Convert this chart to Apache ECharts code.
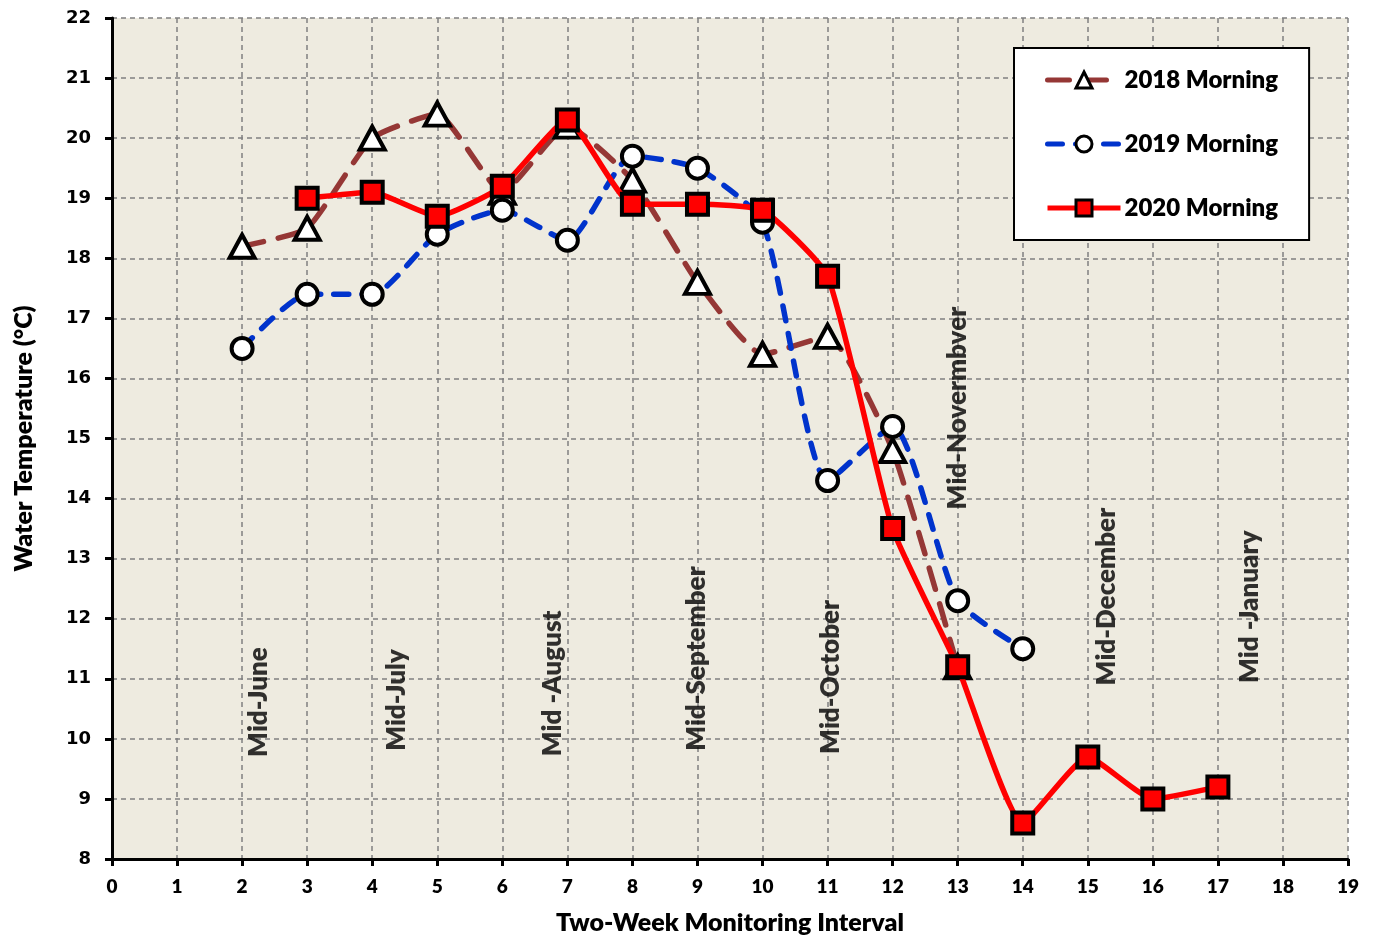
<!DOCTYPE html>
<html>
<head>
<meta charset="utf-8">
<script src="https://cdn.jsdelivr.net/npm/echarts@6/dist/echarts.min.js"></script>
<style>
html,body{margin:0;padding:0;background:#fff;overflow:hidden;}
#chart{width:1374px;height:940px;}
</style>
</head>
<body>
<div id="chart"></div>
<script>
// ---- data ----
const seriesNames = ['2018 Morning', '2019 Morning', '2020 Morning'];
const x2018 = [2, 3, 4, 5, 6, 7, 8, 9, 10, 11, 12, 13];
const y2018 = [18.2, 18.5, 20.0, 20.4, 19.1, 20.2, 19.3, 17.6, 16.4, 16.7, 14.8, 11.2];
const x2019 = [2, 3, 4, 5, 6, 7, 8, 9, 10, 11, 12, 13, 14];
const y2019 = [16.5, 17.4, 17.4, 18.4, 18.8, 18.3, 19.7, 19.5, 18.6, 14.3, 15.2, 12.3, 11.5];
const x2020 = [3, 4, 5, 6, 7, 8, 9, 10, 11, 12, 13, 14, 15, 16, 17];
const y2020 = [19.0, 19.1, 18.7, 19.2, 20.3, 18.9, 18.9, 18.8, 17.7, 13.5, 11.2, 8.6, 9.7, 9.0, 9.2];
// month annotations: text, x position, y position (start of text)
const monthLabels = ['Mid-June', 'Mid-July', 'Mid -August', 'Mid-September', 'Mid-October', 'Mid-Novermbver', 'Mid-December', 'Mid -January'];
const monthX = [2.26, 4.38, 6.78, 8.99, 11.04, 13.0, 15.29, 17.49];
const monthY = [9.70, 9.80, 9.71, 9.80, 9.75, 13.82, 10.89, 10.93];
const xTicks = {min: 0, max: 19, interval: 1};
const yTicks = {min: 8, max: 22, interval: 1};

const pairs = (xs, ys) => xs.map((x, i) => [x, ys[i]]);
const calibri = 'Lato, "Open Sans", sans-serif';
const heavy = 800;

const chart = echarts.init(document.getElementById('chart'), null, {renderer: 'canvas', width: 1374, height: 940});
chart.setOption({
  animation: false,
  backgroundColor: '#ffffff',
  grid: {left: 112, right: 26, top: 18, bottom: 80, show: true, backgroundColor: '#EEEBE0', borderWidth: 0, containLabel: false},
  legend: {
    data: seriesNames,
    orient: 'vertical',
    left: 1014, top: 48,
    padding: [19, 31, 19, 31],
    itemGap: 38,
    itemWidth: 73, itemHeight: 20,
    backgroundColor: '#ffffff',
    borderColor: '#000000', borderWidth: 2,
    lineStyle: {width: 5},
    itemStyle: {borderWidth: 3},
    textStyle: {fontFamily: calibri, fontWeight: heavy, fontSize: 24, lineHeight: 26, color: '#000', padding: [0, 0, 0, -1]}
  },
  xAxis: {
    type: 'value', min: xTicks.min, max: xTicks.max, interval: xTicks.interval,
    name: 'Two-Week Monitoring Interval', nameLocation: 'middle', nameGap: 51,
    nameTextStyle: {fontFamily: calibri, fontWeight: heavy, fontSize: 25, color: '#000'},
    axisLine: {show: true, onZero: false, lineStyle: {color: '#000', width: 3}},
    axisTick: {show: true, length: 7, lineStyle: {color: '#000', width: 3}},
    axisLabel: {fontFamily: calibri, fontWeight: heavy, fontSize: 19, color: '#000', margin: 18},
    splitLine: {show: true, lineStyle: {color: '#808080', type: [5, 4], width: 1.5}}
  },
  yAxis: {
    type: 'value', min: yTicks.min, max: yTicks.max, interval: yTicks.interval,
    name: 'Water Temperature (°C)', nameLocation: 'middle', nameGap: 76, nameRotate: 90,
    nameTextStyle: {fontFamily: calibri, fontWeight: heavy, fontSize: 25, color: '#000'},
    axisLine: {show: true, onZero: false, lineStyle: {color: '#000', width: 3}},
    axisTick: {show: true, length: 7, lineStyle: {color: '#000', width: 3}},
    axisLabel: {fontFamily: '"DejaVu Sans", Verdana, sans-serif', fontWeight: 'bold', fontSize: 18, color: '#000', margin: 21},
    splitLine: {show: true, lineStyle: {color: '#808080', type: [5, 4], width: 1.5}}
  },
  series: [
    {
      name: seriesNames[0], type: 'line', data: pairs(x2018, y2018), smooth: 0.16, z: 2,
      lineStyle: {color: '#953735', width: 5.5, type: [22, 15], cap: 'round'},
      itemStyle: {color: '#ffffff', borderColor: '#000', borderWidth: 4},
      symbol: 'triangle', symbolSize: [25, 23], showAllSymbol: true
    },
    {
      name: seriesNames[1], type: 'line', data: pairs(x2019, y2019), smooth: 0.2, z: 3,
      lineStyle: {color: '#0033CC', width: 5.5, type: [15, 13], cap: 'round'},
      itemStyle: {color: '#ffffff', borderColor: '#000', borderWidth: 4},
      symbol: 'circle', symbolSize: 21, showAllSymbol: true
    },
    {
      name: seriesNames[2], type: 'line', data: pairs(x2020, y2020), smooth: 0.16, z: 4,
      lineStyle: {color: '#FF0000', width: 5.5},
      itemStyle: {color: '#FF0000', borderColor: '#000', borderWidth: 4},
      symbol: 'rect', symbolSize: 21, showAllSymbol: true
    },
    {
      name: 'months', type: 'scatter', z: 5, symbolSize: 0, silent: true,
      data: monthLabels.map((t, i) => ({name: t, value: [monthX[i], monthY[i]]})),
      label: {
        show: true, position: [0, 0], rotate: 90, align: 'left', verticalAlign: 'middle',
        formatter: p => p.name,
        fontFamily: calibri, fontWeight: heavy, fontSize: 26, color: '#000'
      }
    }
  ]
});
</script>
</body>
</html>
